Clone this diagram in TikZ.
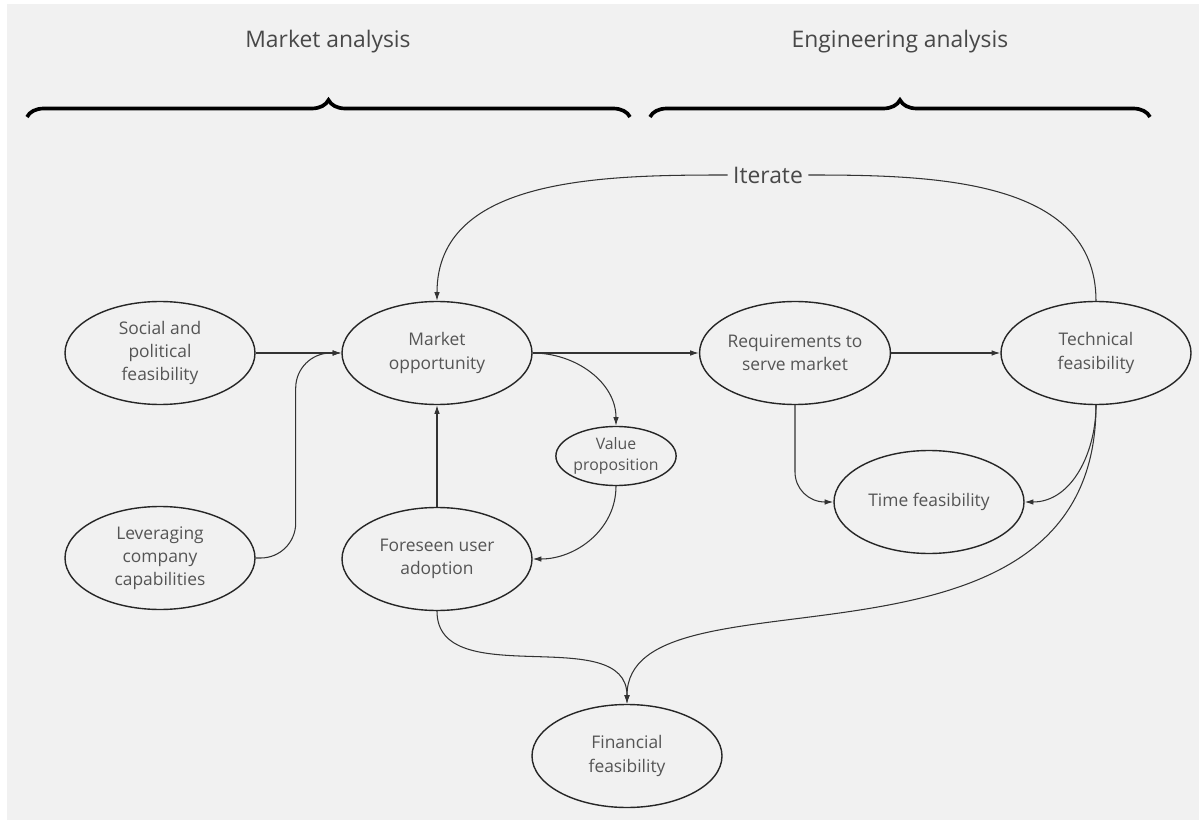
\documentclass[tikz,border=0pt]{standalone}
\usepackage{fontspec}
\setmainfont{Open Sans}
\usetikzlibrary{shapes.geometric,arrows.meta,decorations.pathreplacing}

\definecolor{bggray}{HTML}{F1F1F1}
\definecolor{txtgray}{HTML}{555555}
\definecolor{linegray}{HTML}{333333}

\tikzstyle{bubble} = [ellipse, draw=black!85, line width=0.8pt, minimum width=3.8cm, minimum height=2.06cm, inner sep=0pt, align=center, text=txtgray, font=\fontsize{9.9}{13.2}\selectfont]
\tikzstyle{small bubble} = [bubble, minimum width=2.36cm, minimum height=1.18cm, font=\fontsize{9}{12}\selectfont]
\tikzstyle{link} = [draw=linegray, line width=0.6pt, -{Latex[length=5pt,width=3.2pt]}]
\tikzstyle{heading} = [text=txtgray!85!black, font=\fontsize{13}{15}\selectfont]
\tikzstyle{bracket} = [decorate, decoration={brace, amplitude=0.34cm}, line width=2.1pt]

\begin{document}
\begin{tikzpicture}
\useasboundingbox (0,0) rectangle (23.98,-16.4);
\fill[bggray] (0.14,-0.08) rectangle (23.98,-16.4);

% headings over the two halves
\node[heading] (mkthead) at (6.56,-0.84) {Market analysis};
\node[heading] (enghead) at (18,-0.84) {Engineering analysis};
\coordinate (mktl) at (0.54,-2.34);
\coordinate (mktr) at (12.6,-2.34);
\coordinate (engl) at (13,-2.34);
\coordinate (engr) at (23,-2.34);
\draw[bracket] (mktl) -- (mktr);
\draw[bracket] (engl) -- (engr);

% bubbles
\node[bubble] (soc) at (3.2,-7.06) {Social and\\political\\feasibility};
\node[bubble] (lev) at (3.2,-11.16) {Leveraging\\company\\capabilities};
\node[bubble] (mkt) at (8.74,-7.06) {Market\\opportunity};
\node[small bubble] (val) at (12.32,-9.12) {Value\\proposition};
\node[bubble] (user) at (8.74,-11.18) {Foreseen user\\adoption};
\node[bubble] (req) at (15.9,-7.06) {Requirements to\\serve market};
\node[bubble] (tech) at (21.92,-7.06) {Technical\\feasibility};
\node[bubble] (time) at (18.58,-10.04) {Time feasibility};
\node[bubble] (fin) at (12.54,-15.12) {Financial\\feasibility};
\node[text=txtgray!85!black, font=\fontsize{13}{15}\selectfont, inner sep=3pt] (iter) at (15.36,-3.5) {Iterate};

% connectors
\draw[link] (soc) -- (mkt);
\draw[link, rounded corners=0.7cm] (lev.east) -- ++(0.8,0) |- (mkt.west);
\draw[link] (mkt) -- (req);
\draw[link] (mkt.east) to[out=0,in=90] (val.north);
\draw[link] (val.south) to[out=-90,in=0] (user.east);
\draw[link] (user) -- (mkt);
\draw[link] (req) -- (tech);
\draw[link, rounded corners=0.6cm] (req.south) |- (time.west);
\draw[link] (tech.south) to[out=-90,in=0] (time.east);
\draw[link] (tech.south) .. controls +(0,-5.9) and +(0,2.9) .. (fin.north);
\draw[link] (user.south) to[out=-90,in=90] (fin.north);

% the loop back
\draw[draw=linegray, line width=0.6pt] (tech.north) to[out=90,in=0] (iter.east);
\draw[link] (iter.west) to[out=180,in=90] (mkt.north);
\end{tikzpicture}
\end{document}
